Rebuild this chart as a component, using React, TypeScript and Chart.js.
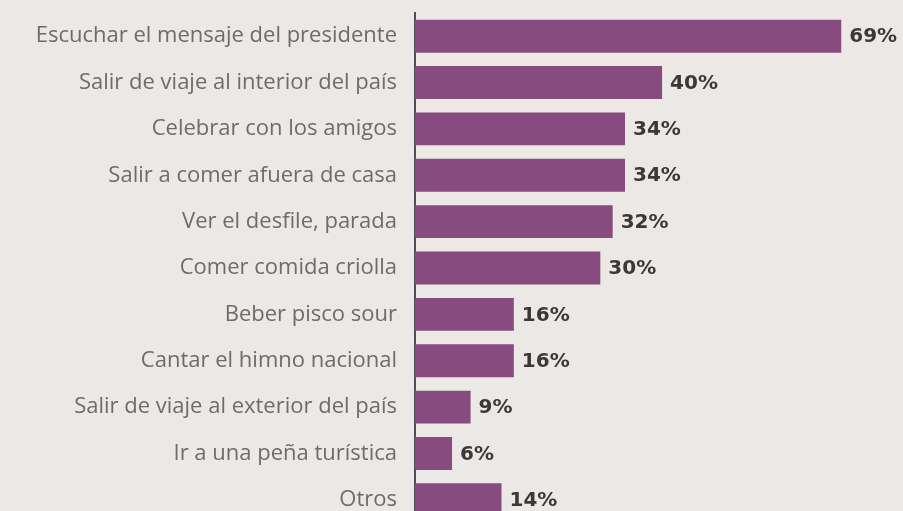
import React, { useEffect, useRef } from "react";
import { Chart, registerables } from "chart.js";

Chart.register(...registerables);

const categories: string[] = [
  "Escuchar el mensaje del presidente",
  "Salir de viaje al interior del país",
  "Celebrar con los amigos",
  "Salir a comer afuera de casa",
  "Ver el desfile, parada",
  "Comer comida criolla",
  "Beber pisco sour",
  "Cantar el himno nacional",
  "Salir de viaje al exterior del país",
  "Ir a una peña turística",
  "Otros",
];

const values: number[] = [69, 40, 34, 34, 32, 30, 16, 16, 9, 6, 14];

const valueLabelPlugin = {
  id: "valueLabels",
  afterDatasetsDraw(chart: any) {
    const ctx = chart.ctx;
    const meta = chart.getDatasetMeta(0);
    ctx.save();
    ctx.font = "bold 20px 'DejaVu Sans'";
    ctx.fillStyle = "#3b383a";
    ctx.textAlign = "left";
    ctx.textBaseline = "middle";
    meta.data.forEach((bar: any, i: number) => {
      ctx.fillText(`${values[i]}%`, bar.x + 8, bar.y + 1);
    });
    ctx.restore();
  },
};

const bgPlugin = {
  id: "bg",
  beforeDraw(chart: any) {
    const ctx = chart.ctx;
    ctx.save();
    ctx.fillStyle = "#ebe8e5";
    ctx.fillRect(0, 0, chart.width, chart.height);
    ctx.restore();
  },
};

export default function App() {
  const ref = useRef<HTMLCanvasElement>(null);

  useEffect(() => {
    document.body.style.margin = "0";
    document.body.style.overflow = "hidden";
    document.body.style.background = "#ebe8e5";
    const chart = new Chart(ref.current!, {
      type: "bar",
      data: {
        labels: categories,
        datasets: [
          {
            data: values,
            backgroundColor: "#884b7f",
            borderWidth: 0,
            categoryPercentage: 1,
            barPercentage: 0.71,
          },
        ],
      },
      options: {
        indexAxis: "y",
        animation: false,
        responsive: false,
        maintainAspectRatio: false,
        layout: { padding: { top: 13, right: 0, bottom: 0, left: 0 } },
        plugins: {
          legend: { display: false },
          tooltip: { enabled: false },
        },
        scales: {
          x: {
            display: false,
            min: 0,
            max: 79,
          },
          y: {
            afterFit(scale: any) {
              scale.width = 415;
              scale.paddingTop = 0;
              scale.paddingBottom = 0;
            },
            grid: { display: false, drawTicks: false },
            border: { display: true, color: "#574a57", width: 2 },
            ticks: {
              color: "#6d6b6c",
              padding: 18,
              font: { family: "Open Sans", size: 22 },
            },
          },
        },
      },
      plugins: [bgPlugin, valueLabelPlugin],
    });
    return () => chart.destroy();
  }, []);

  return (
    <div style={{ width: 903, height: 523 }}>
      <canvas ref={ref} width={903} height={523} />
    </div>
  );
}
